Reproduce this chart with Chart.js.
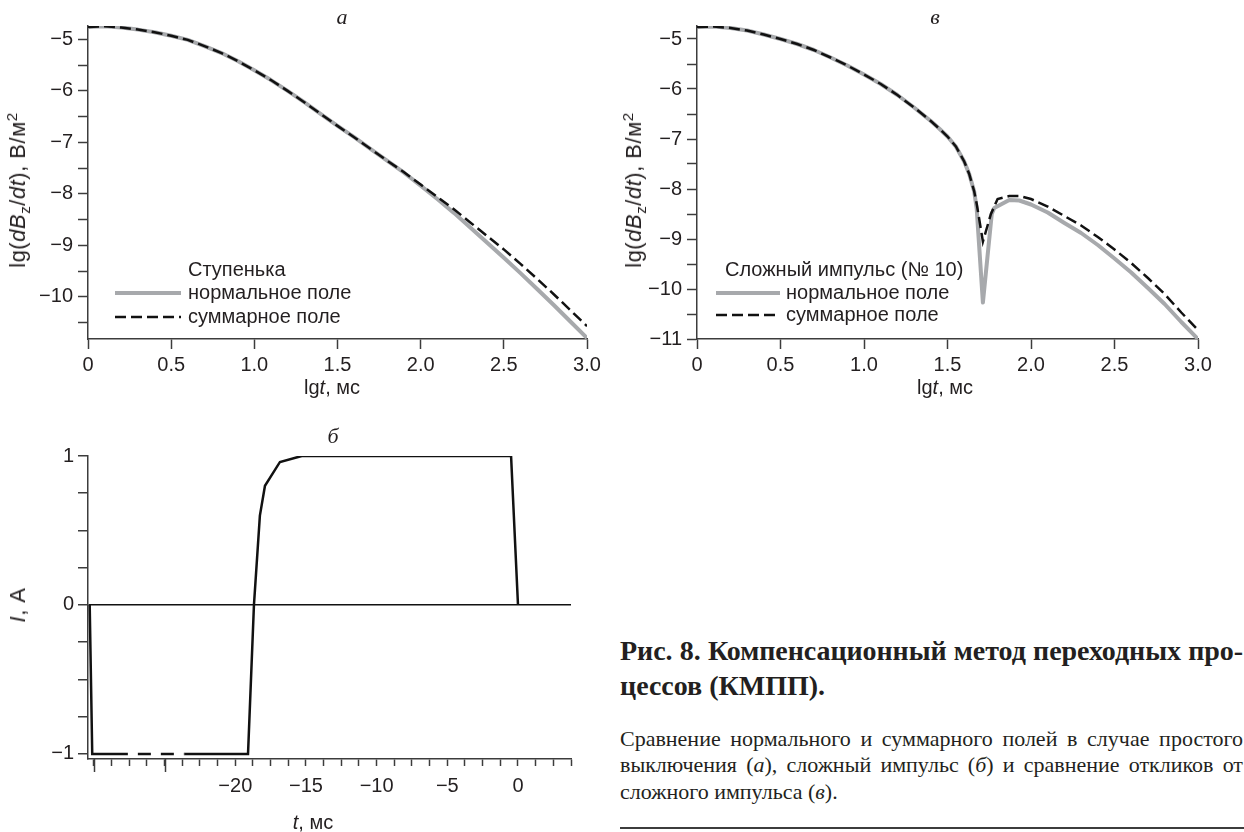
<!DOCTYPE html>
<html lang="ru">
<head>
<meta charset="utf-8">
<script src="https://cdn.jsdelivr.net/npm/chart.js@4.4.1/dist/chart.umd.min.js"></script>
<style>
  html, body { margin: 0; padding: 0; background: #fff; }
  #fig { position: relative; width: 1244px; height: 832px; background: #fff; overflow: hidden;
         color: #231f20; font-family: "Liberation Sans", Arial, sans-serif; }
  canvas { position: absolute; }
  .lbl { position: absolute; white-space: nowrap; font-size: 20px; line-height: 22px;
         transform: translate(-50%, -50%); }
  .ylbl { transform: translate(-50%, -50%) rotate(-90deg); font-size: 22px; letter-spacing: 0.5px; }
  .panel { font-family: "Liberation Serif", "Times New Roman", serif; font-style: italic; font-size: 22px; }
  .cap { position: absolute; left: 620px; width: 623px; white-space: nowrap;
         font-family: "Liberation Serif", "Times New Roman", serif; }
  .just { text-align: justify; text-align-last: justify; }
  .capTitle { font-weight: bold; font-size: 28px; line-height: 32px; }
  .capBody { font-size: 22px; line-height: 26px; }
  sub, sup { font-size: 70%; line-height: 0; }
</style>
</head>
<body>
<div id="fig">
  <canvas id="chartA" width="620" height="400" style="left:0;top:0"></canvas>
  <canvas id="chartV" width="624" height="400" style="left:620px;top:0"></canvas>
  <canvas id="chartB" width="620" height="432" style="left:0;top:400px"></canvas>

  <div class="lbl panel" style="left:342px;top:17px">а</div>
  <div class="lbl panel" style="left:935px;top:17px">в</div>
  <div class="lbl panel" style="left:333px;top:436px">б</div>

  <div class="lbl ylbl" style="left:18px;top:190px">lg(<i>dB</i><sub>z</sub>/<i>dt</i>), В/м<sup>2</sup></div>
  <div class="lbl ylbl" style="left:634px;top:190px">lg(<i>dB</i><sub>z</sub>/<i>dt</i>), В/м<sup>2</sup></div>
  <div class="lbl ylbl" style="left:18px;top:605px"><i>I</i>, А</div>

  <div class="lbl" style="left:332px;top:387px">lg<i>t</i>, мс</div>
  <div class="lbl" style="left:945px;top:387px">lg<i>t</i>, мс</div>
  <div class="lbl" style="left:313px;top:822px"><i>t</i>, мс</div>

  <div class="cap capTitle just" style="top:635px">Рис. 8. Компенсационный метод переходных про-</div>
  <div class="cap capTitle" style="top:670px">цессов (КМПП).</div>
  <div class="cap capBody just" style="top:726px">Сравнение нормального и суммарного полей в случае простого</div>
  <div class="cap capBody just" style="top:752px">выключения (<i>а</i>), сложный импульс (<i>б</i>) и сравнение откликов от</div>
  <div class="cap capBody" style="top:779px">сложного импульса (<i>в</i>).</div>
  <div style="position:absolute;left:620px;top:827px;width:624px;height:2px;background:#3c3c3c"></div>
</div>

<script>
// ---- Panel а: step turn-off, lg of dBz/dt versus lg t ----
const lgTA = [0, 0.1, 0.2, 0.3, 0.4, 0.5, 0.6, 0.7, 0.8, 0.9, 1.0, 1.1, 1.2, 1.3, 1.4, 1.5,
              1.6, 1.7, 1.8, 1.9, 2.0, 2.1, 2.2, 2.3, 2.4, 2.5, 2.6, 2.7, 2.8, 2.9, 3.0];
const normalA = [-4.76, -4.745, -4.77, -4.81, -4.86, -4.93, -5.01, -5.13, -5.26, -5.42, -5.60,
                 -5.79, -6.00, -6.22, -6.45, -6.68, -6.90, -7.13, -7.36, -7.59, -7.84, -8.10,
                 -8.37, -8.66, -8.95, -9.24, -9.54, -9.85, -10.16, -10.48, -10.80];
const totalA = [-4.76, -4.745, -4.77, -4.81, -4.86, -4.93, -5.01, -5.13, -5.26, -5.42, -5.60,
                -5.79, -6.00, -6.22, -6.45, -6.68, -6.90, -7.13, -7.36, -7.58, -7.82, -8.06,
                -8.30, -8.56, -8.82, -9.08, -9.36, -9.65, -9.95, -10.26, -10.57];

// ---- Panel в: complex pulse No 10 responses ----
const lgTVNormal = [0, 0.1, 0.2, 0.3, 0.4, 0.5, 0.6, 0.7, 0.8, 0.9, 1.0, 1.1, 1.2, 1.3, 1.4,
                    1.45, 1.5, 1.55, 1.6, 1.63, 1.66, 1.675, 1.712, 1.765, 1.78, 1.87, 1.93,
                    2.0, 2.1, 2.2, 2.3, 2.4, 2.5, 2.6, 2.7, 2.8, 2.9, 3.0];
const normalV = [-4.76, -4.75, -4.78, -4.83, -4.91, -5.0, -5.1, -5.22, -5.37, -5.53, -5.71,
                 -5.9, -6.12, -6.37, -6.64,
                 -6.79, -6.95, -7.15, -7.45, -7.7, -8.05, -8.4, -10.27, -8.5, -8.38, -8.22, -8.23,
                 -8.31, -8.47, -8.68, -8.88, -9.12, -9.39, -9.67, -9.98, -10.3, -10.66, -11.0];
const lgTVTotal = [0, 0.1, 0.2, 0.3, 0.4, 0.5, 0.6, 0.7, 0.8, 0.9, 1.0, 1.1, 1.2, 1.3, 1.4,
                   1.45, 1.5, 1.55, 1.6, 1.63, 1.66, 1.675, 1.712, 1.76, 1.8, 1.87, 1.93,
                   2.0, 2.1, 2.2, 2.3, 2.4, 2.5, 2.6, 2.7, 2.8, 2.9, 3.0];
const totalV = [-4.76, -4.75, -4.78, -4.83, -4.91, -5.0, -5.1, -5.22, -5.37, -5.53, -5.71,
                -5.9, -6.12, -6.37, -6.64,
                -6.79, -6.95, -7.15, -7.45, -7.7, -8.05, -8.3, -9.05, -8.5, -8.2, -8.14, -8.14,
                -8.2, -8.35, -8.54, -8.73, -8.96, -9.21, -9.48, -9.78, -10.1, -10.47, -10.82];

// ---- Panel б: current waveform of the complex pulse ----
const tMs = [-30.3, -30.12, -27.6, -23.6, -19.1, -18.68, -18.26, -17.9, -16.84, -15.3, -0.49, 0];
const currentA = [0, -1, -1, -1, -1, 0, 0.6, 0.8, 0.96, 1, 1, 0];
const breakFrom = -27.6;          // the -1 plateau is drawn dashed over the time-axis break
const breakTo = -23.6;

// ---- axis ticks ----
const lgTicks = [0, 0.5, 1.0, 1.5, 2.0, 2.5, 3.0];
const lgTickLabels = ['0', '0.5', '1.0', '1.5', '2.0', '2.5', '3.0'];
const yTicksA = [-10.5, -10, -9.5, -9, -8.5, -8, -7.5, -7, -6.5, -6, -5.5, -5];
const yTicksV = [-11, -10.5, -10, -9.5, -9, -8.5, -8, -7.5, -7, -6.5, -6, -5.5, -5];
const tTicks = [-30, -28.75, -27.5, -26.25, -25, -23.75, -22.5, -21.25, -20, -18.75, -17.5,
                -16.25, -15, -13.75, -12.5, -11.25, -10, -8.75, -7.5, -6.25, -5, -3.75, -2.5,
                -1.25, 0, 1.25, 2.5, 3.75];
const tTickLabels = {'-20': '−20', '-15': '−15', '-10': '−10', '-5': '−5', '0': '0'};
const tLongTicks = [-30, -25];
const iTicks = [-1, -0.75, -0.5, -0.25, 0, 0.25, 0.5, 0.75, 1];

const seriesNames = ['нормальное поле', 'суммарное поле'];
const INK = '#231f20';
const AXIS = '#3c3c3c';
const GRAY = '#a7a9ac';
const FONT = { family: '"Liberation Sans", Arial, sans-serif', size: 20 };

const minus = v => (v < 0 ? '−' : '') + Math.abs(v);
const pts = (xs, ys) => xs.map((x, i) => ({ x, y: ys[i] }));

// Legend drawn inside the plot, under a header line
const insetLegend = {
  id: 'insetLegend',
  afterDatasetsDraw(chart, args, o) {
    if (!o || !o.header) return;
    const { ctx, chartArea: ca } = chart;
    ctx.save();
    ctx.font = `${FONT.size}px ${FONT.family}`;
    ctx.fillStyle = INK;
    ctx.textBaseline = 'middle';
    ctx.fillText(o.header, ca.left + o.headerX, ca.bottom + o.headerY);
    chart.data.datasets.forEach((ds, i) => {
      const y = ca.bottom + o.rowY[i];
      ctx.beginPath();
      ctx.setLineDash(ds.borderDash || []);
      ctx.lineWidth = ds.borderWidth;
      ctx.strokeStyle = ds.borderColor;
      ctx.moveTo(ca.left + o.lineX[0], y);
      ctx.lineTo(ca.left + o.lineX[1], y);
      ctx.stroke();
      ctx.setLineDash([]);
      ctx.fillText(ds.label, ca.left + o.textX, y);
    });
    ctx.restore();
  }
};

// Longer tick marks at the ends of the broken part of the time axis
const longTicks = {
  id: 'longTicks',
  afterDraw(chart, args, o) {
    if (!o || !o.values) return;
    const sx = chart.scales.x, ctx = chart.ctx;
    ctx.save();
    ctx.strokeStyle = AXIS;
    ctx.lineWidth = 1.5;
    o.values.forEach(v => {
      const px = Math.round(sx.getPixelForValue(v)) + 0.5;
      ctx.beginPath();
      ctx.moveTo(px, sx.top);
      ctx.lineTo(px, sx.top + o.length);
      ctx.stroke();
    });
    ctx.restore();
  }
};
Chart.register(insetLegend, longTicks);

function axisStyle(tickLen) {
  return {
    border: { color: AXIS, width: 1.5 },
    grid: { drawOnChartArea: false, tickLength: tickLen, tickColor: AXIS, tickWidth: 1.5 },
  };
}

function responseChart(id, xsN, ysN, xsT, ysT, yMin, yTicks, axisW, padRight, legend) {
  return new Chart(document.getElementById(id), {
    type: 'line',
    data: {
      datasets: [
        { label: seriesNames[0], data: pts(xsN, ysN), borderColor: GRAY, borderWidth: 4,
          pointRadius: 0, tension: 0, borderJoinStyle: 'round', order: 1 },
        { label: seriesNames[1], data: pts(xsT, ysT), borderColor: '#111', borderWidth: 2.5,
          borderDash: [11, 5], pointRadius: 0, tension: 0, order: 0 }
      ]
    },
    options: {
      responsive: false, animation: false, devicePixelRatio: 1,
      layout: { padding: { left: 0, top: 26, right: padRight, bottom: 0 } },
      plugins: { legend: { display: false }, tooltip: { enabled: false }, insetLegend: legend },
      scales: {
        x: Object.assign(axisStyle(10), {
          type: 'linear', min: 0, max: 3,
          afterBuildTicks: s => { s.ticks = lgTicks.map(v => ({ value: v })); },
          afterFit: s => { s.height = 61; },
          ticks: { font: FONT, color: INK, padding: 4, autoSkip: false, maxRotation: 0,
                   callback: v => lgTickLabels[lgTicks.indexOf(v)] }
        }),
        y: Object.assign(axisStyle(10), {
          type: 'linear', min: yMin, max: -4.74,
          afterBuildTicks: s => { s.ticks = yTicks.map(v => ({ value: v })); },
          afterFit: s => { s.width = axisW; },
          ticks: { font: FONT, color: INK, padding: 5, autoSkip: false,
                   callback: v => Number.isInteger(v) ? minus(v) : '' }
        })
      }
    }
  });
}

responseChart('chartA', lgTA, normalA, lgTA, totalA, -10.82, yTicksA, 88, 33,
  { header: 'Ступенька', headerX: 100, headerY: -69, lineX: [27, 93], textX: 100, rowY: [-46, -22] });

responseChart('chartV', lgTVNormal, normalV, lgTVTotal, totalV, -11, yTicksV, 77, 46,
  { header: 'Сложный импульс (№ 10)', headerX: 28, headerY: -69, lineX: [19, 83], textX: 89, rowY: [-46, -24] });

new Chart(document.getElementById('chartB'), {
  type: 'line',
  data: {
    datasets: [{
      label: 'I', data: pts(tMs, currentA), borderColor: '#111', borderWidth: 2.5,
      pointRadius: 0, tension: 0, borderJoinStyle: 'miter',
      segment: { borderDash: c => (c.p0.parsed.x === breakFrom && c.p1.parsed.x === breakTo) ? [13, 10] : undefined,
                 borderDashOffset: c => (c.p0.parsed.x === breakFrom) ? 13 : undefined }
    }]
  },
  options: {
    responsive: false, animation: false, devicePixelRatio: 1,
    layout: { padding: { left: 0, top: 56, right: 49, bottom: 0 } },
    plugins: { legend: { display: false }, tooltip: { enabled: false }, longTicks: { values: tLongTicks, length: 13 } },
    scales: {
      x: {
        type: 'linear', min: -30.42, max: 3.75,
        border: { color: AXIS, width: 1.5 },
        grid: { drawOnChartArea: false, tickLength: 7, tickColor: AXIS, tickWidth: 1.5 },
        afterBuildTicks: s => { s.ticks = tTicks.map(v => ({ value: v })); },
        afterFit: s => { s.height = 73; },
        ticks: { font: FONT, color: INK, padding: 8, autoSkip: false, maxRotation: 0,
                 callback: v => tTickLabels[String(v)] || '' }
      },
      y: {
        type: 'linear', min: -1.034, max: 1,
        border: { color: AXIS, width: 1.5 },
        grid: { drawOnChartArea: true, tickLength: 10, tickColor: AXIS, tickWidth: 1.5,
                lineWidth: 1.5, color: c => (c.tick && c.tick.value === 0) ? '#111' : 'rgba(0,0,0,0)' },
        afterBuildTicks: s => { s.ticks = iTicks.map(v => ({ value: v })); },
        afterFit: s => { s.width = 88; },
        ticks: { font: FONT, color: INK, padding: 4, autoSkip: false,
                 callback: v => Number.isInteger(v) ? minus(v) : '' }
      }
    }
  }
});

// Justified caption lines: tighten letter spacing if a line is wider than the column
document.querySelectorAll('.just').forEach(el => {
  let ls = 0;
  while (el.scrollWidth > el.clientWidth + 0.5 && ls > -2) {
    ls -= 0.05;
    el.style.letterSpacing = ls.toFixed(2) + 'px';
  }
});
</script>
</body>
</html>
